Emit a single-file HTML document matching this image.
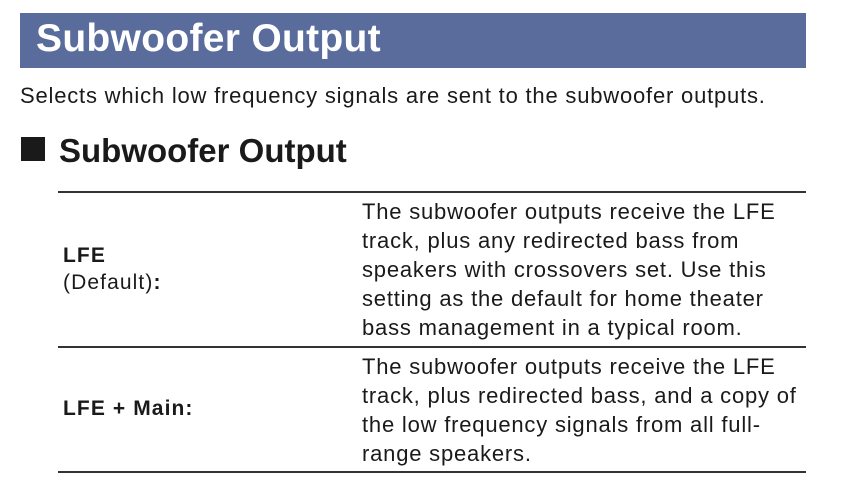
<!DOCTYPE html>
<html><head><style>
body{margin:0;width:844px;height:488px;background:#fff;position:relative;overflow:hidden;font-family:"Liberation Sans",Arial,sans-serif;color:#1a1a1a}
.a{position:absolute;white-space:nowrap}
.bar{position:absolute;left:20px;top:13px;width:786px;height:55px;background:#5a6c9b}
.line{position:absolute;left:58px;width:748px;height:1.5px;background:#333}
.r{position:absolute;left:362px;font-size:22px;letter-spacing:0.8px;line-height:29px;white-space:nowrap}
.l{position:absolute;left:63px;font-size:21px;letter-spacing:1.1px;line-height:27px;white-space:nowrap}
</style></head><body>
<div class="bar"></div>
<div class="a" style="left:36px;top:15px;font-size:39px;letter-spacing:0.3px;font-weight:bold;color:#fff;line-height:48px">Subwoofer Output</div>
<div class="a" style="left:20px;top:83px;font-size:22px;letter-spacing:0.8px;line-height:26px">Selects which low frequency signals are sent to the subwoofer outputs.</div>
<div class="a" style="left:21px;top:137px;width:24px;height:24px;background:#1a1a1a"></div>
<div class="a" style="left:59px;top:132px;font-size:33px;font-weight:bold;line-height:38px">Subwoofer Output</div>
<div class="line" style="top:191px"></div>
<div class="line" style="top:346px"></div>
<div class="line" style="top:471px"></div>
<div class="l" style="top:242px"><b>LFE</b><br>(Default)<b>:</b></div>
<div class="r" style="top:197px">The subwoofer outputs receive the LFE<br>track, plus any redirected bass from<br>speakers with crossovers set. Use this<br>setting as the default for home theater<br>bass management in a typical room.</div>
<div class="l" style="top:395px;font-weight:bold">LFE + Main:</div>
<div class="r" style="top:352px">The subwoofer outputs receive the LFE<br>track, plus redirected bass, and a copy of<br>the low frequency signals from all full-<br>range speakers.</div>
</body></html>
